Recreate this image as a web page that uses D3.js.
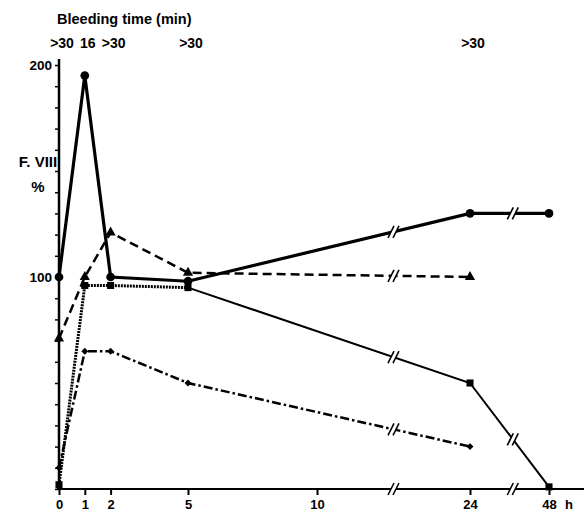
<!DOCTYPE html>
<html>
<head>
<meta charset="utf-8">
<script src="https://cdn.jsdelivr.net/npm/d3@7"></script>
<style>
  body { margin: 0; background: #fff; }
  text { font-family: "Liberation Sans", Arial, sans-serif; font-weight: bold; fill: #000; }
</style>
</head>
<body>
<script>
// hours after infusion, and F. VIII % per curve
var hourTicks = [0, 1, 2, 5, 10, 24, 48]
var breakHours = [17, 37]

var solidHours = [0, 1, 2, 5, 24, 48]
var solidValues = [100, 195, 100, 98, 130, 130]

var dashedHours = [0, 1, 2, 5, 24]
var dashedValues = [71, 100, 121, 102, 100]

var dottedHours = [0, 1, 2, 5, 24, 48]
var dottedValues = [2, 96, 96, 95, 50, 1]

var dashDotHours = [0, 1, 2, 5, 24]
var dashDotValues = [10, 65, 65, 50, 20]

var bleedHours = [0, 1, 2, 5, 24]
var bleedLabels = ['>30', '16', '>30', '>30', '>30']

var W = 584, H = 513

var svg = d3.select('body').append('svg').attr('width', W).attr('height', H)

// broken time axis: 0-10 linear, then compressed to 24 and 48
var x = d3.scaleLinear().domain([0, 10, 24, 48]).range([59, 317, 470, 549])
var y = d3.scaleLinear().domain([0, 200]).range([489, 65])

function pts(hs, vs) { return hs.map(function(h, i) { return [x(h), y(vs[i])] }) }

var line = d3.line()

// x axis
var xAxis = svg.append('g').attr('transform', 'translate(0,' + y(0) + ')')
  .call(d3.axisBottom(x).tickValues(hourTicks).tickSize(6).tickPadding(5).tickFormat(d3.format('d')))
xAxis.select('.domain').remove()
xAxis.append('line').attr('x1', x(0) - 2).attr('x2', W).attr('stroke', '#000').attr('stroke-width', 2)
xAxis.selectAll('.tick line').attr('stroke-width', 2)
xAxis.selectAll('.tick text').attr('font-size', 13).style('font-family', '"Liberation Sans", Arial, sans-serif')
svg.append('text').attr('x', x(48) + 16).attr('y', 509).attr('font-size', 13).text('h')

// y axis
var yAxis = svg.append('g').attr('transform', 'translate(' + x(0) + ',0)')
  .call(d3.axisLeft(y).tickValues(d3.range(0, 201, 10)).tickSize(4).tickPadding(3)
    .tickFormat(function(d) { return d % 100 == 0 && d > 0 ? d : '' }))
yAxis.select('.domain').remove()
yAxis.append('line').attr('y1', y(0)).attr('y2', y(200) - 6).attr('stroke', '#000').attr('stroke-width', 2.5)
yAxis.selectAll('.tick line').attr('stroke-width', 1.5)
yAxis.selectAll('.tick text').attr('font-size', 13.5).style('font-family', '"Liberation Sans", Arial, sans-serif')

// titles
svg.append('text').attr('x', 57).attr('y', 24).attr('font-size', 14.5).text('Bleeding time (min)')
svg.selectAll('.bleed').data(bleedHours).enter().append('text')
  .attr('x', function(d) { return x(d) + 3 }).attr('y', 48)
  .attr('text-anchor', 'middle').attr('font-size', 14)
  .text(function(d, i) { return bleedLabels[i] })
svg.append('text').attr('x', 38).attr('y', 167).attr('text-anchor', 'middle').attr('font-size', 15).text('F. VIII')
svg.append('text').attr('x', 38).attr('y', 192).attr('text-anchor', 'middle').attr('font-size', 15).text('%')

// curves
var solid = pts(solidHours, solidValues)
var dashed = pts(dashedHours, dashedValues)
var dotted = pts(dottedHours, dottedValues)
var dashDot = pts(dashDotHours, dashDotValues)

svg.append('path').attr('d', line(dashDot)).attr('fill', 'none').attr('stroke', '#000')
  .attr('stroke-width', 2.5).attr('stroke-dasharray', '9,3,2.5,3')
svg.append('path').attr('d', line(dotted.slice(0, 4))).attr('fill', 'none').attr('stroke', '#000')
  .attr('stroke-width', 3).attr('stroke-dasharray', '2,1')
svg.append('path').attr('d', line(dotted.slice(3))).attr('fill', 'none').attr('stroke', '#000')
  .attr('stroke-width', 2)
svg.append('path').attr('d', line(dashed)).attr('fill', 'none').attr('stroke', '#000')
  .attr('stroke-width', 2.5).attr('stroke-dasharray', '9,5')
svg.append('path').attr('d', line(solid)).attr('fill', 'none').attr('stroke', '#000')
  .attr('stroke-width', 3.2)

// markers
function marker(points, type, size, rot) {
  svg.append('g').selectAll('path').data(points).enter().append('path')
    .attr('d', d3.symbol().type(type).size(size))
    .attr('transform', function(d) { return 'translate(' + d[0] + ',' + d[1] + ') rotate(' + (rot || 0) + ')' })
    .attr('fill', '#000')
}
marker(solid, d3.symbolCircle, 60)
marker(dashed, d3.symbolTriangle, 45)
marker(dotted, d3.symbolSquare, 50)
marker(dashDot, d3.symbolSquare, 24, 45)

// break marks "//" where a segment crosses a break hour
function breakAt(px, py) {
  var g = svg.append('g').attr('transform', 'translate(' + px + ',' + py + ')')
  g.append('polygon').attr('points', '-5.5,6 0.5,-6 5.5,-6 -0.5,6').attr('fill', '#fff')
  ;[-2.5, 2.5].forEach(function(dx) {
    g.append('line').attr('x1', dx - 3).attr('y1', 6).attr('x2', dx + 3).attr('y2', -6)
      .attr('stroke', '#000').attr('stroke-width', 1.6)
  })
}
;[solid, dashed, dotted, dashDot].forEach(function(p) {
  for (var i = 0; i < p.length - 1; i++) {
    breakHours.forEach(function(b) {
      var bx = x(b)
      if (p[i][0] < bx && bx < p[i + 1][0]) {
        var t = (bx - p[i][0]) / (p[i + 1][0] - p[i][0])
        breakAt(bx, p[i][1] + t * (p[i + 1][1] - p[i][1]))
      }
    })
  }
})
breakHours.forEach(function(b) { breakAt(x(b), y(0)) })
</script>
</body>
</html>
